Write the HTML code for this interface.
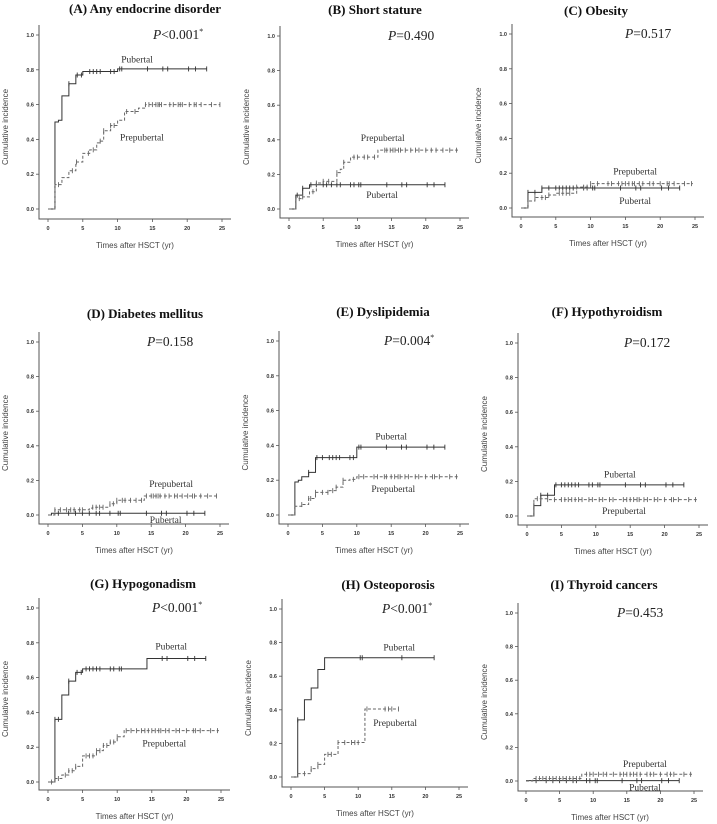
<!DOCTYPE html>
<html><head><meta charset="utf-8"><style>
body{margin:0;background:#fff;width:717px;height:824px;overflow:hidden}
svg{display:block}
.tick{font-family:"Liberation Sans",sans-serif;font-size:5.5px;font-weight:bold;fill:#333}
.ttl{font-family:"Liberation Serif",serif;font-size:13px;font-weight:bold;fill:#111}
.pv{font-family:"Liberation Serif",serif;font-size:13.5px;fill:#222}
.lab{font-family:"Liberation Serif",serif;font-size:9.5px;fill:#333}
.axt{font-family:"Liberation Sans",sans-serif;font-size:8px;fill:#444}
</style></head><body>
<svg id="fig" width="717" height="824" viewBox="0 0 717 824"></svg>
<script>
const titles=["(A) Any endocrine disorder","(B) Short stature","(C) Obesity","(D) Diabetes mellitus","(E) Dyslipidemia","(F) Hypothyroidism","(G) Hypogonadism","(H) Osteoporosis","(I) Thyroid cancers"];
const pTexts=["<0.001","=0.490","=0.517","=0.158","=0.004","=0.172","<0.001","<0.001","=0.453"];
const pStar=[true,false,false,false,true,false,true,true,false];
const yTicks=[0,0.2,0.4,0.6,0.8,1.0];
const yTickLabels=["0.0","0.2","0.4","0.6","0.8","1.0"];
const xTicks=[0,5,10,15,20,25];
const xTickLabels=["0","5","10","15","20","25"];
const pubTimes=[[0,1,1.5,2,3,4,5,10],[0,1,2,3],[0,1,3],[0,0.5],[0,1,1.5,2,3,4,10],[0,1,2,4],[0,1,2,3,4,5,14.3],[0,1,2,3,4,5],[0]];
const pubValues=[[0,0.5,0.51,0.65,0.72,0.77,0.79,0.805],[0,0.08,0.12,0.14],[0,0.09,0.115],[0,0.01],[0,0.19,0.2,0.22,0.245,0.33,0.39],[0,0.06,0.12,0.18],[0,0.36,0.5,0.58,0.63,0.65,0.71],[0,0.34,0.46,0.53,0.64,0.71],[0.002]];
const pubEnd=[22.8,22.8,22.8,22.8,22.8,22.8,22.8,21.3,22.8];
const pubCensor=[[3,4.2,4.8,6,6.5,7,7.5,9,9.5,10.3,10.6,14.3,16.5,17.2,20.2,21.2,22.8],[1.2,2,3.2,4,5,5.5,6.2,7,7.5,9,9.5,10.2,10.5,14.3,16.5,17.2,20.2,21.2,22.8],[1,2,3,4,5,5.5,6,6.5,7,7.5,9,9.5,10.3,10.6,14.3,16.5,17.2,20.2,21.2,22.8],[1.5,3,4,5,6,7,7.5,9,10.2,10.5,14.3,16.5,17.2,20.2,21.2,22.8],[3,4.2,5,6,6.5,7,7.5,9,9.5,10.3,10.6,14.3,16.5,17.2,20.2,21.2,22.8],[1,2,3,4.2,5,5.5,6,6.5,7,7.5,9,9.5,10.3,10.6,14.3,16.5,17.2,20.2,21.2,22.8],[1,1.5,3,4.2,4.8,5.5,6,6.5,7,7.5,9,9.5,10.3,10.6,16.5,17.2,20.2,21.2,22.8],[1,10.3,10.6,16.5,21.3],[1.5,3,4,5,6,7,7.5,9,9.5,10.3,10.6,14.3,16.5,17.2,20.2,21.2,22.8]];
const preTimes=[[0,1,2,3,4,5,6,7,7.5,8,9,10,11,13,14],[0,1,2,3,4,5,7,7.5,8,9,13],[0,1,2,4,5,8,10],[0,1,6,6.5,9,10,14],[0,1,2,3,4,6,7,8,9,10],[0,1,3],[0,1,2,3,4,5,7,8,9,10,11],[0,1,3,4,5,7,11],[0,1,8.3]];
const preValues=[[0,0.14,0.18,0.22,0.27,0.32,0.34,0.38,0.39,0.45,0.48,0.51,0.56,0.58,0.6],[0,0.06,0.07,0.1,0.15,0.16,0.21,0.23,0.27,0.3,0.34],[0,0.04,0.06,0.075,0.085,0.12,0.14],[0,0.03,0.04,0.045,0.065,0.085,0.11],[0,0.05,0.06,0.095,0.13,0.14,0.16,0.2,0.205,0.22],[0,0.1,0.095],[0,0.02,0.04,0.065,0.09,0.15,0.18,0.21,0.23,0.26,0.295],[0,0.02,0.05,0.075,0.135,0.205,0.405],[0,0.015,0.04]];
const preEnd=[24.7,24.7,24.7,24.7,24.7,24.7,24.7,16,24.7];
const preCensor=[[1.5,3.5,4.1,5.8,6.5,7.5,8,9,9.5,11.3,12.5,14,14.5,15,15.5,15.8,16,16.3,17.5,18,18.7,19,19.3,20.3,21,21.3,22,23.5,24.7],[1.5,2,3.5,4,5,5.8,7,8,9.5,10,11,11.5,12.5,14,14.3,14.8,15.2,15.5,16,16.3,17,17.8,18.5,19,20,20.8,21.5,22.5,23.5,24.5],[2,3,3.5,4,5.5,6,6.5,7,8,9,9.5,10,11,12.5,13,14,14.5,15,15.5,16,16.3,17,17.5,18.5,19,20,21,21.3,22,23.5,24.5],[1,1.8,2.7,3.3,3.8,4.6,5,6.5,7,7.5,8,9,9.5,10,10.8,11.2,12,12.8,13.6,14.3,15,15.3,15.7,16,16.3,17,17.6,18.4,18.8,19.5,20.3,21,21.3,22.2,23.2,24.5],[2,3,3.3,4,5,5.8,6.5,7,8,9.5,10.3,11,12.5,13,14,14.3,15,15.5,16,16.3,17,17.5,18.5,19,20,21,21.3,22,23.5,24.5],[1.5,2,3,4,5,5.5,6,6.5,7,7.5,8,9,9.5,10.5,11,12,12.5,14,14.5,15,15.5,16,16.3,17,17.5,18.5,19,20,21,21.3,22,23.5,24.5],[0.5,1.5,2.5,3,3.5,4,5.5,6,6.5,7,7.5,8,8.5,9,9.5,10,11.3,12,12.8,13.5,14,14.5,15,15.5,16,16.3,17,17.5,18.5,19,20,21,21.3,22,23.5,24.5],[2,3,4,5.5,6,7,8,9,9.5,10,11.3,14,14.5,15,16],[1.5,2,2.5,3,3.5,4,4.5,5,5.5,6,6.5,7,7.5,8,9,9.5,10,10.8,11.5,12,13,14,14.5,15,15.5,16,16.5,17,18,18.5,19,20,21,21.5,22,23.5,24.5]];
const pubLabelPos=[[12.8,0.86],[13.6,0.08],[16.4,0.04],[17.1,-0.03],[15,0.45],[13.5,0.24],[17.8,0.78],[16.1,0.77],[17.7,-0.04]];
const preLabelPos=[[13.5,0.41],[13.7,0.41],[16.4,0.21],[17.9,0.18],[15.3,0.15],[14.1,0.03],[16.8,0.22],[15.5,0.32],[17.7,0.10]];
// panel geometry: [axisX, x0, x25, y1, y0, bottom, titleCx, titleY, pOffset]
const geo=[[39,48,222,35,209,219,145,13,114],[280,289,460,36,209,218,375,14,108],[512,521,695,34,208,217,596,15,113],
[39,48,220,342,515,524,145,318,108],[279,288,460,341,515,524,383,316,105],[518,527,699,343,516,525,607,316,106],
[39,48,221,608,782,790,143,588,113],[282,291,459,609,777,787,388,589,100],[518,526,694,613,781,791,604,589,99]];
const NS="http://www.w3.org/2000/svg";
const svg=document.getElementById('fig');
function mk(tag,attrs,parent){const e=document.createElementNS(NS,tag);for(const k in attrs)e.setAttribute(k,attrs[k]);parent.appendChild(e);return e;}
function stepAt(ts,vs,t){let v=vs[0];for(let i=0;i<ts.length;i++){if(ts[i]<=t)v=vs[i];}return v;}
for(let p=0;p<9;p++){
  const [ax,x0,x25,y1,y0,bot,tcx,ty,po]=geo[p];
  const X=t=>x0+(x25-x0)*t/25, Y=v=>y0-(y0-y1)*v;
  const g=mk('g',{},svg);
  
  
  const tt=mk('text',{x:tcx,y:ty,'text-anchor':'middle',class:'ttl'},g);tt.textContent=titles[p];
  
  
  const pt=mk('text',{x:ax+po,y:y1+4,class:'pv'},g);
  
  
  const pi=mk('tspan',{'font-style':'italic'},pt);pi.textContent='P';
  const pr=mk('tspan',{},pt);pr.textContent=pTexts[p];
  if(pStar[p]){const s=mk('tspan',{'font-size':'8px',dy:'-5'},pt);s.textContent='*';}
  const axes=mk('path',{d:`M${ax},${y1-10}V${bot}H${x25+9}`,stroke:'#555','stroke-width':1,fill:'none'},g);
  
  
  yTicks.forEach((v,i)=>{mk('line',{x1:ax-3,x2:ax,y1:Y(v),y2:Y(v),stroke:'#555','stroke-width':0.8},g);
    const l=mk('text',{x:ax-5,y:Y(v)+2,'text-anchor':'end',class:'tick'},g);l.textContent=yTickLabels[i];
    
    });
  xTicks.forEach((t,i)=>{mk('line',{x1:X(t),x2:X(t),y1:bot,y2:bot+3,stroke:'#555','stroke-width':0.8},g);
    const l=mk('text',{x:X(t),y:bot+11,'text-anchor':'middle',class:'tick'},g);l.textContent=xTickLabels[i];
    
    });
  const ymid=(y1+bot)/2;
  const yt=mk('text',{x:ax-31,y:ymid,'text-anchor':'middle',class:'axt',transform:`rotate(-90 ${ax-31} ${ymid})`},g);yt.textContent='Cumulative incidence';
  
  
  const xt=mk('text',{x:(x0+x25)/2,y:bot+29,'text-anchor':'middle',class:'axt'},g);xt.textContent='Times after HSCT (yr)';
  
  
  const series=[[pubTimes[p],pubValues[p],pubEnd[p],pubCensor[p],'#333','none','pubertal'],[preTimes[p],preValues[p],preEnd[p],preCensor[p],'#666','3,2','prepubertal']];
  series.forEach(([ts,vs,end,cs,col,dash,nm])=>{
    let d=`M${X(ts[0])},${Y(vs[0])}`;
    for(let i=1;i<ts.length;i++){d+=`H${X(ts[i])}V${Y(vs[i])}`;}
    d+=`H${X(end)}`;
    const ln=mk('path',{d,stroke:col,'stroke-width':1,fill:'none','stroke-dasharray':dash},g);
    
    
    cs.forEach(t=>{const v=stepAt(ts,vs,t);
      const c=mk('line',{x1:X(t),x2:X(t),y1:Y(v)-2.5,y2:Y(v)+2.5,stroke:col,'stroke-width':0.9},g);
      
      });
  });
  const pl=mk('text',{x:X(pubLabelPos[p][0]),y:Y(pubLabelPos[p][1])+3,'text-anchor':'middle',class:'lab'},g);pl.textContent='Pubertal';
  
  
  const ql=mk('text',{x:X(preLabelPos[p][0]),y:Y(preLabelPos[p][1])+3,'text-anchor':'middle',class:'lab'},g);ql.textContent='Prepubertal';
  
  
}
</script>
</body></html>
